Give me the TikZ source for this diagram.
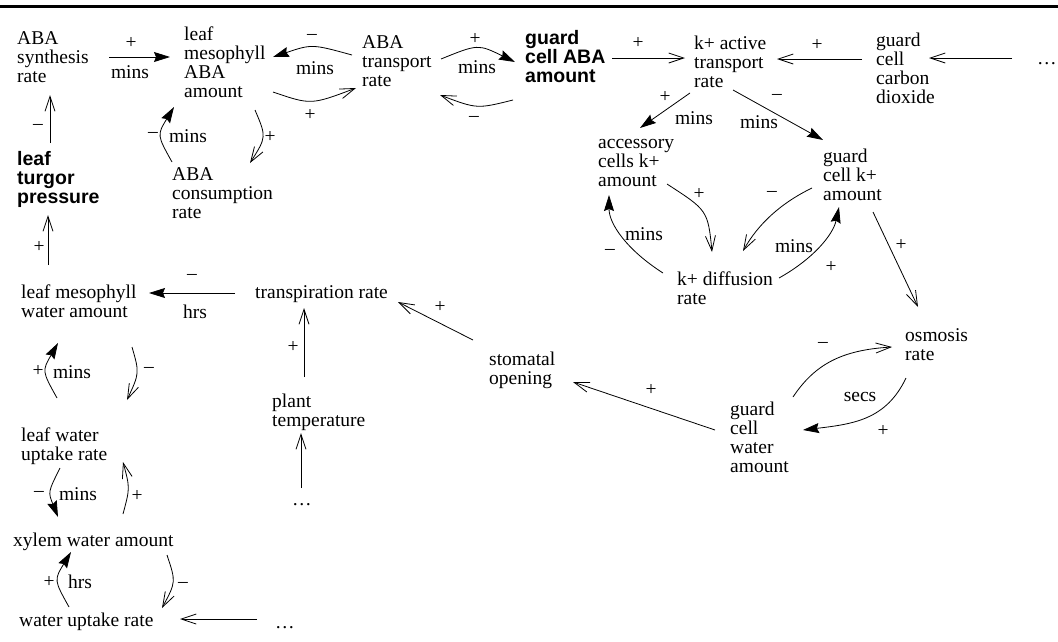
\documentclass[tikz,border=0pt]{standalone}
\usepackage{fontspec}
\setmainfont{Liberation Serif}
\newfontfamily\keyfont{Liberation Sans}
\usetikzlibrary{arrows.meta}

% lines of a quantity name, baseline on the first line
\newcommand{\lines}[1]{\begin{tabular}[t]{@{}l@{}}#1\end{tabular}}

\tikzset{
  qty/.style={anchor=base west, inner sep=0pt,
    font=\fontsize{19.5}{19}\selectfont},
  keyqty/.style={qty, font=\fontsize{19.5}{19}\selectfont\keyfont\bfseries},
  sgn/.style={inner sep=0pt, font=\fontsize{19.5}{19}\selectfont},
  delay/.style={-{Stealth[length=16pt,width=10pt,inset=2pt]}, line width=0.8pt},
  infl/.style={-{Straight Barb[length=15pt,width=10pt]}, line width=0.8pt},
}

\begin{document}
\begin{tikzpicture}[x=1pt,y=-1pt]
        \useasboundingbox (0,0) rectangle (1058,641);
        \draw[line width=3pt] (0,6) -- (1058,6);

        % quantities
        \node[qty] (abasyn) at (17,44) {\lines{ABA\\synthesis\\rate}};
        \node[qty] (lmaba) at (184,40) {\lines{leaf\\mesophyll\\ABA\\amount}};
        \node[qty] (abatr) at (362,48) {\lines{ABA\\transport\\rate}};
        \node[keyqty] (gcaba) at (525,44) {\lines{guard\\cell ABA\\amount}};
        \node[qty] (kact) at (694,49) {\lines{k+ active\\transport\\rate}};
        \node[qty] (gcco) at (876,46) {\lines{guard\\cell\\carbon\\dioxide}};
        \node[qty] (dotsa) at (1037,64) {\dots};
        \node[qty] (abacons) at (172,180) {\lines{ABA\\consumption\\rate}};
        \node[keyqty] (turgor) at (17,165) {\lines{leaf\\turgor\\pressure}};
        \node[qty] (acck) at (598,148) {\lines{accessory\\cells k+\\amount}};
        \node[qty] (gck) at (823,162) {\lines{guard\\cell k+\\amount}};
        \node[qty] (kdiff) at (677,285) {\lines{k+ diffusion\\rate}};
        \node[qty] (osm) at (905,341) {\lines{osmosis\\rate}};
        \node[qty] (gcw) at (730,415) {\lines{guard\\cell\\water\\amount}};
        \node[qty] (stom) at (489,365) {\lines{stomatal\\opening}};
        \node[qty] (transp) at (255,298) {transpiration rate};
        \node[qty] (ptemp) at (272,407) {\lines{plant\\temperature}};
        \node[qty] (dotsb) at (292,505) {\dots};
        \node[qty] (lmw) at (21,298) {\lines{leaf mesophyll\\water amount}};
        \node[qty] (lwu) at (21,441) {\lines{leaf water\\uptake rate}};
        \node[qty] (xyl) at (13,546) {xylem water amount};
        \node[qty] (wu) at (19,626) {water uptake rate};
        \node[qty] (dotsc) at (275,628) {\dots};

        % ABA loop
        \draw[delay] ([shift={(92,13)}]abasyn.base west) -- ([shift={(-14,17)}]lmaba.base west);
        \draw[delay] ([shift={(-10,7)}]abatr.base west) .. controls +(-40,-11) and +(39,-13) .. ([shift={(89,17)}]lmaba.base west);
        \draw[infl] ([shift={(89,52)}]lmaba.base west) .. controls +(38,13) and +(-45,17) .. ([shift={(-6,40)}]abatr.base west);
        \draw[infl] ([shift={(71,70)}]lmaba.base west) .. controls +(11.5,27) and +(16.5,-26) .. ([shift={(78,-17)}]abacons.base west);
        \draw[delay] ([shift={(0,-18)}]abacons.base west) .. controls +(-15,-27) and +(-17,28) .. ([shift={(-10,67)}]lmaba.base west);
        \draw[infl] ([shift={(33,-22)}]turgor.base west) -- ([shift={(33,51)}]abasyn.base west);
        \draw[delay] ([shift={(79,11)}]abatr.base west) .. controls +(37,-15) and +(-37,-18) .. ([shift={(-10,18)}]gcaba.base west);
        \draw[infl] ([shift={(-12,56)}]gcaba.base west) .. controls +(-36,9) and +(37,14) .. ([shift={(78,47)}]abatr.base west);
        \node[sgn] (s1) at (131,43) {+};
        \node[sgn] (d1) at (130,72) {mins};
        \node[sgn] (s2) at (312,37) {--};
        \node[sgn] (d2) at (315,68) {mins};
        \node[sgn] (s3) at (310,115) {+};
        \node[sgn] (s4) at (270,137) {+};
        \node[sgn] (s5) at (153,135) {--};
        \node[sgn] (d5) at (188,136) {mins};
        \node[sgn] (s6) at (38,127) {--};
        \node[sgn] (s7) at (475,39) {+};
        \node[sgn] (d7) at (477,67) {mins};
        \node[sgn] (s8) at (474,119) {--};

        % potassium
        \draw[infl] ([shift={(87,14)}]gcaba.base west) -- ([shift={(-9,9)}]kact.base west);
        \draw[delay] ([shift={(-4,44)}]kact.base west) -- ([shift={(42,-20)}]acck.base west);
        \draw[infl] ([shift={(-14,13)}]gcco.base west) -- ([shift={(83,10)}]kact.base west);
        \draw[infl] ([shift={(-25,-6)}]dotsa.base west) -- ([shift={(53,12)}]gcco.base west);
        \draw[delay] ([shift={(39,41)}]kact.base west) -- ([shift={(0,-22)}]gck.base west);
        \draw[infl] ([shift={(69,36)}]acck.base west) .. controls +(40,26) and +(-4,-42) .. ([shift={(35,-33)}]kdiff.base west);
        \draw[infl] ([shift={(-11,26)}]gck.base west) .. controls +(-31,15) and +(15,-27) .. ([shift={(66,-34)}]kdiff.base west);
        \draw[delay] ([shift={(-14,-12)}]kdiff.base west) .. controls +(-36,-23) and +(0,29) .. ([shift={(11,47)}]acck.base west);
        \draw[delay] ([shift={(102,-7)}]kdiff.base west) .. controls +(34,-19) and +(-6,28) .. ([shift={(16,45)}]gck.base west);
        \draw[infl] ([shift={(50,50)}]gck.base west) -- ([shift={(13,-34)}]osm.base west);
        \node[sgn] (s9) at (638,43) {+};
        \node[sgn] (s10) at (665,97) {+};
        \node[sgn] (d10) at (694,118) {mins};
        \node[sgn] (s11) at (817,45) {+};
        \node[sgn] (s13) at (777,97) {--};
        \node[sgn] (d13) at (759,122) {mins};
        \node[sgn] (s14) at (699,194) {+};
        \node[sgn] (s15) at (772,194) {--};
        \node[sgn] (s16) at (610,252) {--};
        \node[sgn] (d16) at (644,234) {mins};
        \node[sgn] (d17) at (794,246) {mins};
        \node[sgn] (s17) at (831,267) {+};
        \node[sgn] (s18) at (901,245) {+};

        % guard cell water
        \draw[infl] ([shift={(63,-18)}]gcw.base west) .. controls +(22,-33) and +(-50,3) .. ([shift={(-13,6)}]osm.base west);
        \draw[delay] ([shift={(1,37)}]osm.base west) .. controls +(-20,42) and +(50,-6) .. ([shift={(73,15)}]gcw.base west);
        \draw[infl] ([shift={(-15,15)}]gcw.base west) -- ([shift={(84,17)}]stom.base west);
        \draw[infl] ([shift={(-16,-25)}]stom.base west) -- ([shift={(143,4)}]transp.base west);
        \draw[infl] ([shift={(32,-30)}]ptemp.base west) -- ([shift={(49,10)}]transp.base west);
        \draw[infl] ([shift={(9,-17)}]dotsb.base west) -- ([shift={(29,26)}]ptemp.base west);
        \node[sgn] (s19) at (823,345) {--};
        \node[sgn] (d20) at (860,397) {secs};
        \node[sgn] (s20) at (883,431) {+};
        \node[sgn] (s21) at (651,390) {+};
        \node[sgn] (s22) at (440,307) {+};
        \node[sgn] (s23) at (293,347) {+};

        % leaf water
        \draw[delay] ([shift={(-20,-5)}]transp.base west) -- ([shift={(128,-5)}]lmw.base west);
        \draw[infl] ([shift={(27,-33)}]lmw.base west) -- ([shift={(31,50)}]turgor.base west);
        \draw[delay] ([shift={(36,-43)}]lwu.base west) .. controls +(-15,-27) and +(-16,28) .. ([shift={(37,45)}]lmw.base west);
        \draw[infl] ([shift={(111,49)}]lmw.base west) .. controls +(7.5,26) and +(12.5,-27) .. ([shift={(106,-41)}]lwu.base west);
        \draw[delay] ([shift={(39,27)}]lwu.base west) .. controls +(-12,24) and +(-10,-25) .. ([shift={(45,-29)}]xyl.base west);
        \draw[infl] ([shift={(110,-32)}]xyl.base west) .. controls +(7,-26) and +(7,26) .. ([shift={(102,21)}]lwu.base west);
        \draw[infl] ([shift={(154,9)}]xyl.base west) .. controls +(9,27) and +(14,-26) .. ([shift={(143,-18)}]wu.base west);
        \draw[delay] ([shift={(50,-19)}]wu.base west) .. controls +(-15,-27) and +(-17,28) .. ([shift={(58,6)}]xyl.base west);
        \draw[infl] ([shift={(-18,-9)}]dotsc.base west) -- ([shift={(161,-7)}]wu.base west);
        \node[sgn] (s25) at (192,277) {--};
        \node[sgn] (d25) at (195,312) {hrs};
        \node[sgn] (s26) at (39,247) {+};
        \node[sgn] (s27) at (38,371) {+};
        \node[sgn] (d27) at (72,372) {mins};
        \node[sgn] (s28) at (149,370) {--};
        \node[sgn] (s29) at (39,494) {--};
        \node[sgn] (d29) at (78,494) {mins};
        \node[sgn] (s30) at (137,496) {+};
        \node[sgn] (s31) at (183,585) {--};
        \node[sgn] (s32) at (49,582) {+};
        \node[sgn] (d32) at (80,582) {hrs};
\end{tikzpicture}
\end{document}
